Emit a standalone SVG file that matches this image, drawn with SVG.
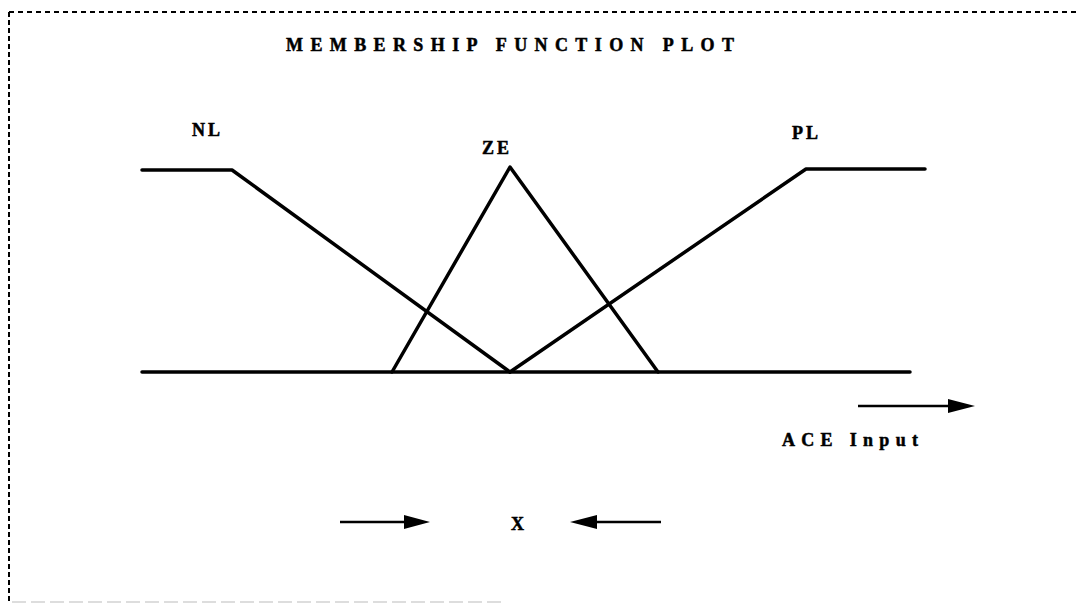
<svg xmlns="http://www.w3.org/2000/svg" width="1079" height="604" viewBox="0 0 1079 604">
<style>
.t{font-family:"Liberation Serif","Times New Roman",serif;font-weight:bold;fill:#000;stroke:#000;stroke-width:0.5;font-size:18px}
.ln{stroke:#000;stroke-width:3.5;fill:none;stroke-linecap:round;stroke-linejoin:round}
.ar{stroke:#000;stroke-width:2.5;fill:none}
.hd{fill:#000}
</style>
<rect width="1079" height="604" fill="#fff"/>
<g id="border">
<path d="M9 12 H1079" stroke="#000" stroke-width="2" stroke-dasharray="5,4" fill="none"/>
<path d="M9 12 V604" stroke="#000" stroke-width="2" stroke-dasharray="5,3" fill="none"/>
<path d="M12 602 H505" stroke="#bbb" stroke-width="1.2" stroke-dasharray="14,5" fill="none"/>
</g>
<g id="title"><text class="t" x="286" y="51" textLength="448" lengthAdjust="spacing">MEMBERSHIP FUNCTION PLOT</text></g>
<g id="axis"><path class="ln" d="M142 372 H910"/></g>
<g id="NL"><path class="ln" d="M142 170 H232 L510 372"/><text class="t" x="192" y="136" letter-spacing="3">NL</text></g>
<g id="ZE"><path class="ln" d="M392 372 L510 167 L658 372"/><text class="t" x="482" y="154" letter-spacing="3">ZE</text></g>
<g id="PL"><path class="ln" d="M510 372 L806 169 H925"/><text class="t" x="792" y="139" letter-spacing="3">PL</text></g>
<g id="connectors">
<path class="ar" d="M858 406 H950"/><polygon class="hd" points="948,399 975,406 948,413"/>
<path class="ar" d="M340 522 H406"/><polygon class="hd" points="404,515 430,522 404,529"/>
<path class="ar" d="M595 522 H661"/><polygon class="hd" points="597,515 570,522 597,529"/>
</g>
<g id="labels">
<text class="t" x="782" y="446" textLength="136" lengthAdjust="spacing">ACE Input</text>
<text class="t" x="511" y="530">X</text>
</g>
</svg>
